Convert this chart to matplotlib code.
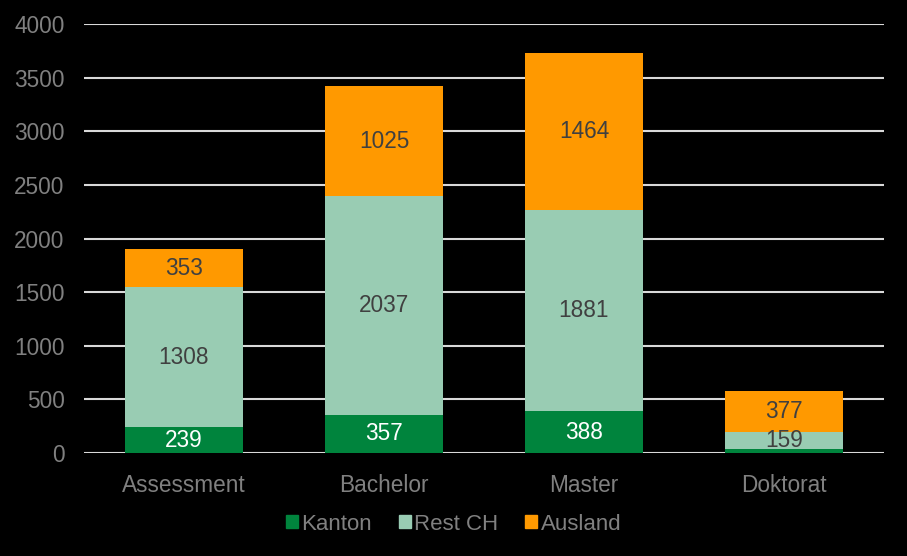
import numpy as np
import matplotlib.pyplot as plt
from matplotlib.patches import Patch

plt.rcParams['font.family'] = ['Liberation Sans', 'DejaVu Sans']

# Daten
kategorien = ['Assessment', 'Bachelor', 'Master', 'Doktorat']
kanton = [239, 357, 388, 40]
rest_ch = [1308, 2037, 1881, 159]
ausland = [353, 1025, 1464, 377]

farben = ['#00843D', '#99CCB3', '#FF9900']
namen = ['Kanton', 'Rest CH', 'Ausland']

fig = plt.figure(figsize=(9.07, 5.56), dpi=100, facecolor='black')
ax = fig.add_axes([84 / 907, 1 - 453 / 556, 800 / 907, 429 / 556])
ax.set_facecolor('black')

x = np.arange(len(kategorien))
breite = 0.59
unten = np.zeros(len(kategorien))
for werte, farbe in zip([kanton, rest_ch, ausland], farben):
    werte = np.array(werte)
    ax.bar(x, werte, breite, bottom=unten, color=farbe, zorder=3)
    textfarbe = 'white' if farbe == '#00843D' else '#404040'
    for xi, b, w in zip(x, unten, werte):
        if w >= 100:
            ax.text(xi, b + w / 2, str(w), ha='center', va='center',
                    fontsize=16.3, color=textfarbe, zorder=4)
    unten += werte

ax.set_xlim(-0.5, 3.5)
ax.set_ylim(0, 4000)
ax.set_yticks(np.arange(0, 4001, 500))
ax.yaxis.grid(True, color='#d9d9d9', linewidth=1.5, zorder=0)
ax.set_xticks(x)
ax.set_xticklabels(kategorien)
ax.tick_params(axis='both', length=0, labelsize=16.3, colors='#808080')
ax.tick_params(axis='y', pad=14)
ax.tick_params(axis='x', pad=15)
for s in ax.spines.values():
    s.set_visible(False)

handles = [Patch(color=c) for c in farben]
fig.legend(handles, namen, loc='center', bbox_to_anchor=(0.5, 1 - 524 / 556),
           ncol=3, frameon=False, fontsize=16, labelcolor='#808080',
           handlelength=0.55, handleheight=0.55, handletextpad=0.15,
           columnspacing=1.2)

fig.savefig('out.png', dpi=100, facecolor='black')
